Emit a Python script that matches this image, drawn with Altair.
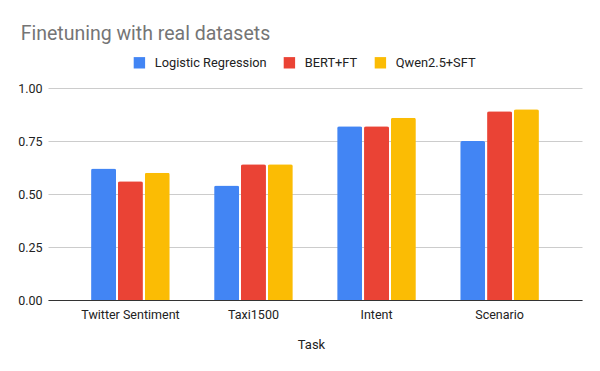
import altair as alt
import pandas as pd

tasks = ["Twitter Sentiment", "Taxi1500", "Intent", "Scenario"]
models = ["Logistic Regression", "BERT+FT", "Qwen2.5+SFT"]
logreg = [0.62, 0.54, 0.82, 0.75]
bert = [0.56, 0.64, 0.82, 0.89]
qwen = [0.60, 0.64, 0.86, 0.90]
colors = ["#4285F4", "#EA4335", "#FBBC04"]

rows = []
for i, t in enumerate(tasks):
    for m, vals in zip(models, [logreg, bert, qwen]):
        rows.append({"Task": t, "Model": m, "Value": vals[i]})
df = pd.DataFrame(rows)

FONT = "Roboto"

chart = (
    alt.Chart(df)
    .mark_bar(cornerRadiusTopLeft=2, cornerRadiusTopRight=2)
    .encode(
        x=alt.X(
            "Task:N",
            sort=tasks,
            scale=alt.Scale(paddingInner=0.36, paddingOuter=0.35),
            axis=alt.Axis(
                title="Task",
                labelAngle=0,
                labelFont=FONT,
                labelFontSize=12.5,
                labelColor="#222222",
                labelPadding=8,
                ticks=False,
                domainColor="#333333",
                domainWidth=1,
                titleFont=FONT,
                titleFontSize=13,
                titleFontWeight="normal",
                titleColor="#222222",
                titleX=263,
                titleY=44,
                titleAnchor="start",
                titleAlign="center",
                titleBaseline="middle",
            ),
        ),
        xOffset=alt.XOffset("Model:N", sort=models, scale=alt.Scale(paddingInner=0.07, paddingOuter=0)),
        y=alt.Y(
            "Value:Q",
            scale=alt.Scale(domain=[0, 1]),
            axis=alt.Axis(
                title=None,
                values=[0, 0.25, 0.5, 0.75, 1.0],
                format=".2f",
                labelFont=FONT,
                labelFontSize=12.5,
                labelColor="#222222",
                labelPadding=6,
                ticks=False,
                domain=False,
                gridColor="#cccccc",
                gridWidth=1,
            ),
        ),
        color=alt.Color(
            "Model:N",
            sort=models,
            scale=alt.Scale(domain=models, range=colors),
            legend=alt.Legend(
                title=None,
                orient="none",
                direction="horizontal",
                legendX=85,
                legendY=-32,
                symbolType="square",
                symbolSize=130,
                symbolStrokeWidth=0,
                symbolOpacity=1,
                labelFont=FONT,
                labelFontSize=12.8,
                labelColor="#222222",
                labelOffset=9,
                columnPadding=16,
            ),
        ),
    )
    .properties(
        width=534,
        height=212,
        title=alt.TitleParams(
            "Finetuning with real datasets",
            anchor="start",
            font=FONT,
            fontSize=19.5,
            fontWeight="normal",
            color="#757575",
            dx=3,
            dy=-8,
        ),
        autosize=alt.AutoSizeParams(type="none"),
        padding={"left": 40, "top": 80, "right": 10, "bottom": 63},
    )
    .configure_view(stroke=None)
)

chart.save("out.html", embed_options={"renderer": "svg", "actions": False})
